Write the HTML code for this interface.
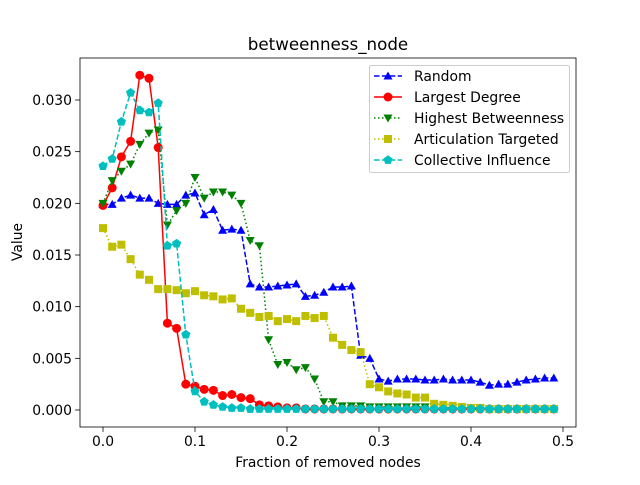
<!DOCTYPE html>
<html><head><meta charset="utf-8"><style>
body{margin:0;background:#fff;}
svg text{font-family:"DejaVu Sans","Liberation Sans",sans-serif;fill:#000;}
</style></head><body>
<svg id="chart" width="640" height="480" xmlns="http://www.w3.org/2000/svg"></svg>
<script>
const xValues = Array.from({length:50},(_,i)=>i/100);
const xTicks = [0.0,0.1,0.2,0.3,0.4,0.5];
const xTickLabels = ["0.0","0.1","0.2","0.3","0.4","0.5"];
const yTicks = [0,0.005,0.010,0.015,0.020,0.025,0.030];
const yTickLabels = ["0.000","0.005","0.010","0.015","0.020","0.025","0.030"];
const randomVals = [0.0199,0.0199,0.0205,0.0208,0.0205,0.0205,0.0200,0.0199,0.0199,0.0208,0.0210,0.0189,0.0194,0.0174,0.0175,0.0174,0.0122,0.0119,0.0119,0.0120,0.0121,0.0122,0.0110,0.0111,0.0114,0.0119,0.0119,0.0120,0.0053,0.0050,0.0030,0.0028,0.0030,0.0030,0.0030,0.0029,0.0029,0.0030,0.0029,0.0029,0.0029,0.0027,0.0024,0.0025,0.0025,0.0027,0.0029,0.0030,0.0031,0.0031];
const degreeVals = [0.0198,0.0215,0.0245,0.0260,0.0324,0.0321,0.0254,0.0084,0.0079,0.0025,0.0023,0.0020,0.0019,0.0014,0.0015,0.0012,0.0011,0.0005,0.0004,0.0003,0.0002,0.0002,0.0001,0.0001,0.0001,0.0001,0.0001,0.0001,0.0001,0.0001,0.0001,0.0001,0.0001,0.0001,0.0001,0.0001,0.0001,0.0001,0.0001,0.0001,0.0001,0.0001,0.0001,0.0001,0.0001,0.0001,0.0001,0.0001,0.0001,0.0001];
const betweenVals = [0.0200,0.0222,0.0231,0.0238,0.0257,0.0268,0.0271,0.0179,0.0193,0.0200,0.0225,0.0205,0.0211,0.0211,0.0208,0.0200,0.0164,0.0159,0.0068,0.0044,0.0046,0.0039,0.0041,0.0030,0.0008,0.0008,0.0004,0.0004,0.0004,0.0003,0.0003,0.0003,0.0003,0.0003,0.0003,0.0003,0.0003,0.0002,0.0002,0.0002,0.0002,0.0002,0.0001,0.0001,0.0001,0.0001,0.0001,0.0001,0.0001,0.0001];
const articVals = [0.0176,0.0158,0.0160,0.0146,0.0131,0.0126,0.0117,0.0117,0.0116,0.0113,0.0115,0.0111,0.0110,0.0107,0.0108,0.0098,0.0094,0.0090,0.0091,0.0086,0.0088,0.0086,0.0091,0.0089,0.0091,0.0070,0.0063,0.0058,0.0056,0.0025,0.0022,0.0018,0.0016,0.0015,0.0012,0.0012,0.0006,0.0005,0.0004,0.0003,0.0002,0.0002,0.0001,0.0001,0.0001,0.0001,0.0001,0.0001,0.0001,0.0001];
const collectiveVals = [0.0236,0.0243,0.0279,0.0307,0.0290,0.0288,0.0297,0.0159,0.0161,0.0073,0.0018,0.0008,0.0005,0.0003,0.0002,0.0002,0.0001,0.0001,0.0001,0.0001,0.0001,0.0001,0.0001,0.0001,0.0001,0.0001,0.0001,0.0001,0.0001,0.0001,0.0001,0.0001,0.0001,0.0001,0.0001,0.0001,0.0001,0.0001,0.0001,0.0001,0.0001,0.0001,0.0001,0.0001,0.0001,0.0001,0.0001,0.0001,0.0001,0.0001];

const NS="http://www.w3.org/2000/svg";
const svg=document.getElementById('chart');
const L=80,R=576,T=58,B=427;
const xs=v=>103+v*920;
const ys=v=>410-v*(310/0.03);
function mk(tag,attrs,parent){const e=document.createElementNS(NS,tag);for(const k in attrs)e.setAttribute(k,attrs[k]);(parent||svg).appendChild(e);return e;}

const title=mk('text',{x:328,y:50,'text-anchor':'middle','font-size':'16.7'});
title.textContent='betweenness_node';



xTicks.forEach((t,i)=>{
  const g=mk('g',{});
  
  
  mk('line',{x1:xs(t),x2:xs(t),y1:B,y2:B+4.9,stroke:'#000','stroke-width':0.8},g);
  const tx=mk('text',{x:xs(t),y:B+19,'text-anchor':'middle','font-size':'13.9'},g);
  tx.textContent=xTickLabels[i];
});
yTicks.forEach((t,i)=>{
  const g=mk('g',{});
  
  
  mk('line',{x1:L-4.9,x2:L,y1:ys(t),y2:ys(t),stroke:'#000','stroke-width':0.8},g);
  const tx=mk('text',{x:L-8,y:ys(t)+5,'text-anchor':'end','font-size':'13.9'},g);
  tx.textContent=yTickLabels[i];
});
const xl=mk('text',{x:328,y:467,'text-anchor':'middle','font-size':'13.9'});
xl.textContent='Fraction of removed nodes';


const yl=mk('text',{x:0,y:0,'text-anchor':'middle','font-size':'13.9',transform:'translate(22,242) rotate(-90)'});
yl.textContent='Value';



function marker(g,type,x,y,c){
  if(type==='^')mk('polygon',{points:`${x},${y-4.5} ${x-4.5},${y+3.5} ${x+4.5},${y+3.5}`,fill:c},g);
  else if(type==='v')mk('polygon',{points:`${x},${y+4.5} ${x-4.5},${y-3.5} ${x+4.5},${y-3.5}`,fill:c},g);
  else if(type==='o')mk('circle',{cx:x,cy:y,r:4.5,fill:c},g);
  else if(type==='s')mk('rect',{x:x-4,y:y-4,width:8,height:8,fill:c},g);
  else if(type==='p'){let p=[];for(let k=0;k<5;k++){const a=-Math.PI/2+k*2*Math.PI/5;p.push((x+4.8*Math.cos(a))+','+(y+4.8*Math.sin(a)));}mk('polygon',{points:p.join(' '),fill:c},g);}
}
const series=[
 {name:'Random',vals:randomVals,c:'#0000ff',m:'^',dash:'5.5,2.4',id:'series-random'},
 {name:'Largest Degree',vals:degreeVals,c:'#ff0000',m:'o',dash:'',id:'series-largest-degree'},
 {name:'Highest Betweenness',vals:betweenVals,c:'#008000',m:'v',dash:'1.5,2.5',id:'series-highest-betweenness'},
 {name:'Articulation Targeted',vals:articVals,c:'#bfbf00',m:'s',dash:'1.5,2.5',id:'series-articulation-targeted'},
 {name:'Collective Influence',vals:collectiveVals,c:'#00bfbf',m:'p',dash:'5.5,2.4',id:'series-collective-influence'}
];
series.forEach(s=>{
  const g=mk('g',{});
  
  
  const pts=s.vals.map((v,i)=>xs(xValues[i])+','+ys(v)).join(' ');
  const a={points:pts,fill:'none',stroke:s.c,'stroke-width':1.5};
  if(s.dash)a['stroke-dasharray']=s.dash;
  mk('polyline',a,g);
  s.vals.forEach((v,i)=>marker(g,s.m,xs(xValues[i]),ys(v),s.c));
});

mk('rect',{x:L,y:T,width:R-L,height:B-T,fill:'none',stroke:'#000','stroke-width':0.8});

const lg=mk('g',{});


mk('rect',{x:369.5,y:65.5,width:200,height:107,fill:'#fff','fill-opacity':0.8,stroke:'#ccc',rx:2},lg);
series.forEach((s,i)=>{
  const y=76+i*21;
  const e=mk('g',{},lg);
  
  
  const a={x1:374,x2:402,y1:y,y2:y,stroke:s.c,'stroke-width':1.5};
  if(s.dash)a['stroke-dasharray']=s.dash;
  mk('line',a,e);
  marker(e,s.m,388,y,s.c);
  const t=mk('text',{x:414,y:y+5,'font-size':'13.9'},e);
  t.textContent=s.name;
});
</script>
</body></html>
